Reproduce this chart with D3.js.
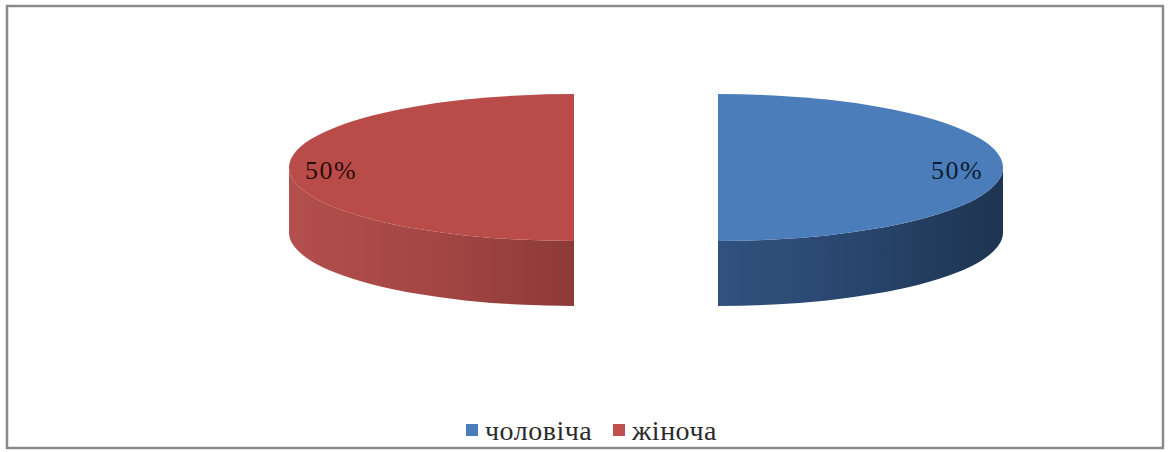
<!DOCTYPE html>
<html>
<head>
<meta charset="utf-8">
<script src="https://cdn.jsdelivr.net/npm/d3@7"></script>
<style>
  html, body { margin: 0; padding: 0; background: #fff; }
  svg { display: block; }
</style>
</head>
<body>
<svg id="chart" width="1171" height="452"></svg>
<script>
// Share of respondents by gender
const categories = ["чоловіча", "жіноча"];
const values = [50, 50];
const valueLabels = ["50%", "50%"];

const topColors = ["#4a7dba", "#b94c49"];
const legendColors = ["#4a7dba", "#c0504d"];
const wallStops = [
  ["#31527f", "#28456c", "#1e3451"],
  ["#b34f4c", "#a44644", "#8d3a38"]
];
const SERIF = '"Liberation Serif", "Times New Roman", serif';

const svg = d3.select("#chart");

// outer frame
svg.append("rect")
  .attr("x", 7).attr("y", 6)
  .attr("width", 1156).attr("height", 442)
  .attr("fill", "#fff")
  .attr("stroke", "#8a8a8a").attr("stroke-width", 2.5);

// 3D pie geometry (oblique view of a flat disc)
const cx = 646, cy = 167.5;
const rx = 285, ry = 73.5, depth = 65;
const explode = 72;

const pie = d3.pie().sort(null).value(d => d);
const arcs = pie(values);

const pt = (a, ox) => [cx + ox + rx * Math.sin(a), cy - ry * Math.cos(a)];

const defs = svg.append("defs");

arcs.forEach((d, i) => {
  const mid = (d.startAngle + d.endAngle) / 2;
  const ox = explode * Math.sin(mid);
  const g = svg.append("g");

  // visible front wall: the part of the rim between 90° and 270°
  const a0 = Math.max(d.startAngle, Math.PI / 2);
  const a1 = Math.min(d.endAngle, 3 * Math.PI / 2);
  if (a1 > a0) {
    const p0 = pt(a0, ox), p1 = pt(a1, ox);
    const gid = "wall" + i;
    const xs = [p0[0], p1[0]];
    const grad = defs.append("linearGradient")
      .attr("id", gid)
      .attr("gradientUnits", "userSpaceOnUse")
      .attr("x1", d3.min(xs)).attr("x2", d3.max(xs))
      .attr("y1", 0).attr("y2", 0);
    wallStops[i].forEach((c, k, arr) => {
      grad.append("stop").attr("offset", k / (arr.length - 1)).attr("stop-color", c);
    });
    const path = `M${p0[0]},${p0[1]}` +
      ` A${rx},${ry} 0 0 1 ${p1[0]},${p1[1]}` +
      ` L${p1[0]},${p1[1] + depth}` +
      ` A${rx},${ry} 0 0 0 ${p0[0]},${p0[1] + depth} Z`;
    g.append("path").attr("d", path).attr("fill", `url(#${gid})`);
  }

  // top face
  const s = pt(d.startAngle, ox), e = pt(d.endAngle, ox);
  const large = (d.endAngle - d.startAngle) > Math.PI ? 1 : 0;
  g.append("path")
    .attr("d", `M${cx + ox},${cy} L${s[0]},${s[1]} A${rx},${ry} 0 ${large} 1 ${e[0]},${e[1]} Z`)
    .attr("fill", topColors[i]);
});

// data labels near the outer rim
const labelPos = [[957, 170], [331, 170]];
arcs.forEach((d, i) => {
  svg.append("text")
    .attr("x", labelPos[i][0]).attr("y", labelPos[i][1])
    .attr("text-anchor", "middle")
    .attr("dominant-baseline", "central")
    .style("font-family", SERIF)
    .style("font-size", "26px")
    .style("letter-spacing", "1.5px")
    .attr("fill", i === 0 ? "#101c30" : "#2a0c0c")
    .text(valueLabels[i]);
});

// legend
const legend = svg.append("g").attr("transform", "translate(0,430)");
const lx = [466, 613];
categories.forEach((c, i) => {
  legend.append("rect")
    .attr("x", lx[i]).attr("y", -6)
    .attr("width", 12).attr("height", 12)
    .attr("fill", legendColors[i]);
  legend.append("text")
    .attr("x", lx[i] + 19).attr("y", 0)
    .attr("dominant-baseline", "central")
    .style("font-family", SERIF)
    .style("font-size", "28px")
    .style("letter-spacing", "0.5px")
    .attr("fill", "#2b2b2b")
    .text(c);
});
</script>
</body>
</html>
